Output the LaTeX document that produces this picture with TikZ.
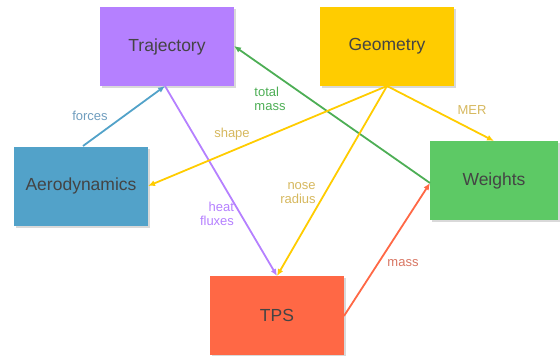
\documentclass[tikz,border=0pt]{standalone}
\usepackage{fontspec}
\setmainfont{Liberation Sans}
\usetikzlibrary{arrows.meta,shadows}
\definecolor{trajc}{HTML}{B580FF}
\definecolor{geoc}{HTML}{FFCC00}
\definecolor{aeroc}{HTML}{52A2C9}
\definecolor{weic}{HTML}{5DC965}
\definecolor{tpsc}{HTML}{FF6845}
\definecolor{txtc}{HTML}{444444}
\definecolor{khaki}{HTML}{D6B85E}
\definecolor{forcec}{HTML}{6F9DBE}
\definecolor{massc}{HTML}{D87562}
\definecolor{totc}{HTML}{4DAE55}
\tikzset{
  module/.style={rectangle, minimum width=134pt, minimum height=79pt, inner sep=0pt,
    text=txtc, font=\fontsize{17.5}{19}\selectfont,
    drop shadow={shadow xshift=2pt, shadow yshift=-2pt, fill=black!25, opacity=0.6}},
  link/.style={line width=1.8pt, -{Latex[length=7pt,width=6pt]}},
  lbl/.style={font=\fontsize{13}{14}\selectfont, inner sep=0pt, align=left}
}
\begin{document}
\begin{tikzpicture}[x=1pt,y=-1pt]
\useasboundingbox (0,0) rectangle (560,356);
\node[module, fill=trajc] (traj) at (167,46.5) {Trajectory};
\node[module, fill=geoc] (geo) at (387,46.5) {Geometry};
\node[module, fill=aeroc] (aero) at (81,186) {Aerodynamics};
\node[module, fill=weic, minimum width=128pt] (wei) at (494,180.5) {Weights};
\node[module, fill=tpsc] (tps) at (277,315) {TPS};

\coordinate (trajb) at (165,86);
\coordinate (trajr) at (234,46);
\coordinate (geob) at (387,86);
\coordinate (aerot) at (83,146);
\coordinate (aeror) at (148,186);
\coordinate (weil) at (430,183);
\coordinate (weit) at (494,141);
\coordinate (tpst) at (277,276);
\coordinate (tpsr) at (344,316);

\draw[link, aeroc] (aerot) -- (trajb);
\draw[link, trajc] (trajb) -- (tpst);
\draw[link, totc] (weil) -- (trajr);
\draw[link, geoc] (geob) -- (aeror);
\draw[link, geoc] (geob) -- (tpst);
\draw[link, geoc] (geob) -- (weit);
\draw[link, tpsc] (tpsr) -- (weil);

\node[lbl, text=forcec] (lforces) at (90,116) {forces};
\node[lbl, text=trajc, align=right] (lheat) at (217,214) {heat\\fluxes};
\node[lbl, text=totc] (ltotal) at (270,99) {total\\mass};
\node[lbl, text=khaki] (lshape) at (232,134) {shape};
\node[lbl, text=khaki, align=right] (lnose) at (298,193) {nose\\radius};
\node[lbl, text=khaki] (lmer) at (472,110) {MER};
\node[lbl, text=massc] (lmass) at (403,263) {mass};
\end{tikzpicture}
\end{document}
